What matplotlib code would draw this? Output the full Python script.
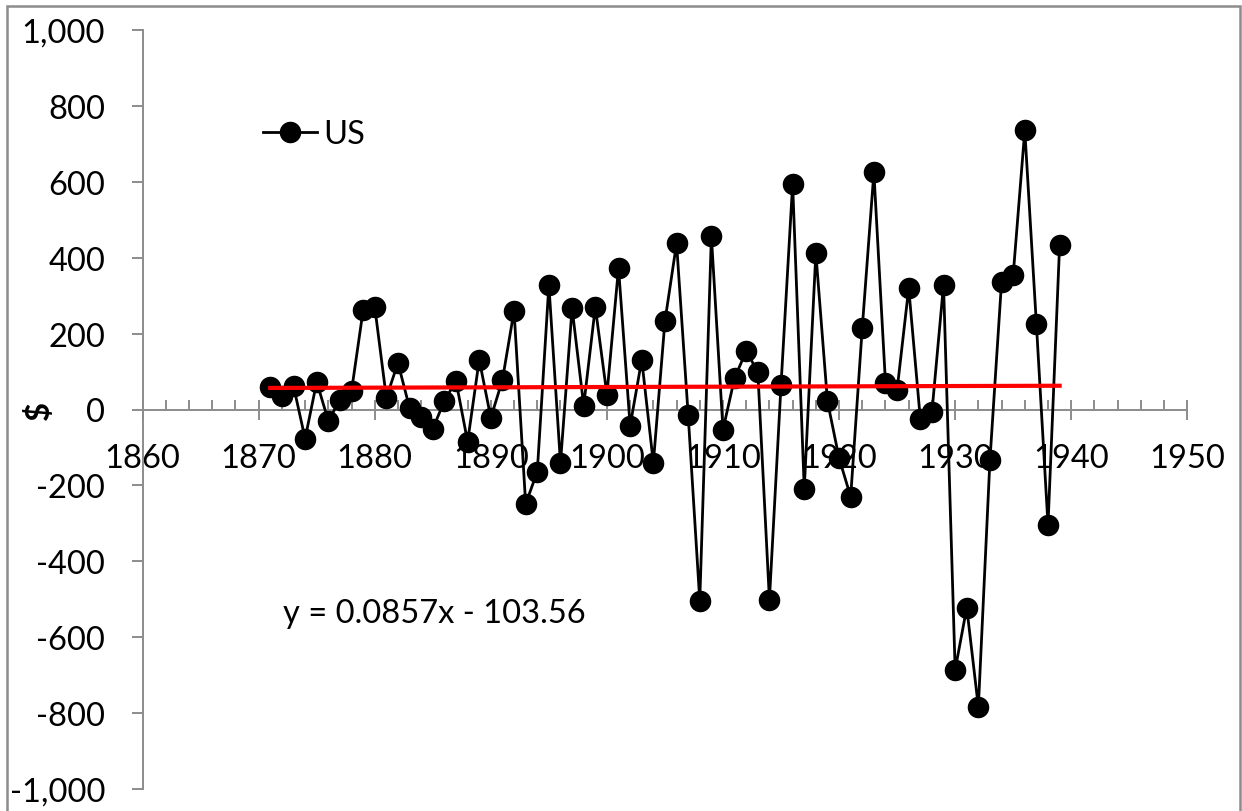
import matplotlib
matplotlib.use('Agg')
import matplotlib.pyplot as plt
from matplotlib.ticker import MultipleLocator, FuncFormatter
from matplotlib.patches import Rectangle
import numpy as np

plt.rcParams['font.family'] = ['Lato', 'DejaVu Sans']

years = list(range(1871, 1940))
us = [60, 36, 62, -77, 73, -30, 25, 49, 262, 270,
      31, 123, 4, -20, -51, 23, 75, -85, 131, -22,
      78, 260, -249, -164, 328, -141, 267, 10, 270, 39,
      373, -43, 131, -141, 233, 438, -14, -504, 457, -53,
      83, 154, 99, -501, 65, 594, -209, 412, 22, -128,
      -230, 216, 625, 69, 52, 320, -25, -7, 329, -686,
      -522, -784, -132, 337, 354, 736, 225, -305, 434]

# trend line as shown on the chart
slope = 0.0857
intercept = -103.56
trend_label = 'y = 0.0857x - 103.56'

W, H = 1242, 812
fs = 23.5
fig = plt.figure(figsize=(W / 100, H / 100), dpi=100)
ax = fig.add_axes([142.6 / W, 1 - 790 / H, (1187.3 - 142.6) / W, (790 - 31) / H])

ax.plot(years, us, color='black', lw=2, marker='o', ms=14.5,
        markerfacecolor='black', markeredgecolor='black', label='US', zorder=3)
tx = np.array([years[0], years[-1]])
ax.plot(tx, slope * tx + intercept, color='#ff0000', lw=3, zorder=4)

ax.set_xlim(1860, 1950)
ax.set_ylim(-1000, 1000)

grey = '#8c8c8c'
for s in ['top', 'right']:
    ax.spines[s].set_visible(False)
ax.spines['bottom'].set_position(('data', 0))
ax.spines['bottom'].set_color(grey)
ax.spines['left'].set_color(grey)
ax.spines['bottom'].set_linewidth(1.4)
ax.spines['left'].set_linewidth(1.4)

ax.xaxis.set_major_locator(MultipleLocator(10))
ax.xaxis.set_minor_locator(MultipleLocator(2))
ax.yaxis.set_major_locator(MultipleLocator(200))
ax.yaxis.set_major_formatter(FuncFormatter(lambda v, p: f'{v:,.0f}'))

ax.tick_params(axis='x', which='major', direction='inout', length=14, width=1.4,
               color=grey, labelsize=fs, pad=17)
ax.tick_params(axis='x', which='minor', direction='in', length=7, width=1.4, color=grey)
ax.tick_params(axis='y', which='major', direction='out', length=8, width=1.4,
               color=grey, labelsize=fs, pad=19)

ax.set_ylabel('$', fontsize=fs, fontweight='bold', va='center')
ax.yaxis.set_label_coords(-0.099, 0.5)

ax.legend(loc='center left', bbox_to_anchor=(263 / W, 1 - 135 / H),
          bbox_transform=fig.transFigure, frameon=False, fontsize=fs,
          handlelength=1.65, handletextpad=0.2, borderpad=0, borderaxespad=0)

ax.text(283 / W, 1 - 614 / H, trend_label, transform=fig.transFigure,
        fontsize=fs, va='center', ha='left')

fig.patches.append(Rectangle((7 / W, -0.02), (1240 - 7) / W, 1 - 7 / H + 0.02,
                             transform=fig.transFigure, fill=False,
                             edgecolor='#8c8c8c', lw=1.8))

fig.savefig('out.png', dpi=100)
